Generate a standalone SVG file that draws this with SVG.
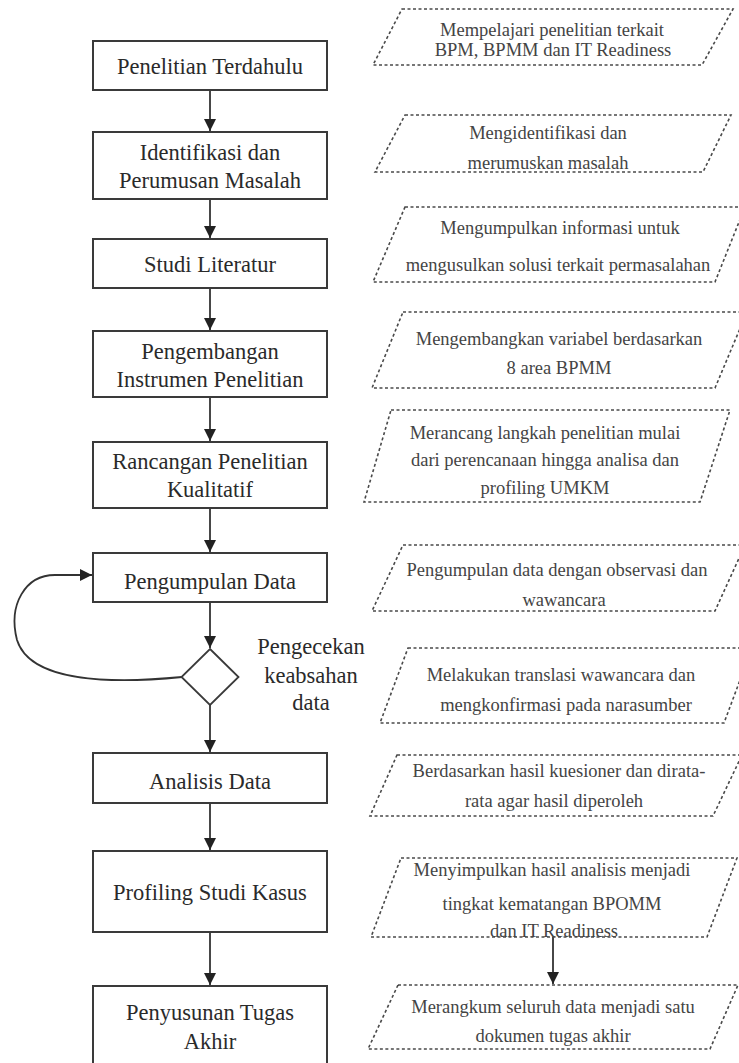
<svg xmlns="http://www.w3.org/2000/svg" width="739" height="1063" viewBox="0 0 739 1063">
  <style>
    .box { fill: #ffffff; stroke: #3a3a3a; stroke-width: 2; }
    .dia { fill: #ffffff; stroke: #3a3a3a; stroke-width: 1.8; }
    .note { fill: #ffffff; stroke: #4a4a4a; stroke-width: 1.6; stroke-dasharray: 3 2.5; }
    .edge { fill: none; stroke: #333333; stroke-width: 1.8; }
    .lbl { font-family: "Liberation Serif", "Times New Roman", serif; font-size: 22.5px; fill: #2a2a2a; text-anchor: middle; }
    .ntxt { font-family: "Liberation Serif", "Times New Roman", serif; font-size: 18.5px; fill: #444444; text-anchor: middle; }
  </style>
  <defs>
    <marker id="arrow" markerUnits="userSpaceOnUse" markerWidth="12" markerHeight="15" viewBox="0 0 12 15" refX="12" refY="7.5" orient="auto">
      <path d="M0,1.5 L12,7.5 L0,13.5 Z" fill="#222222"/>
    </marker>
  </defs>
  <rect width="739" height="1063" fill="#ffffff"/>

  <!-- connectors -->
  <g id="connectors">
    <line class="edge" x1="210" y1="90" x2="210" y2="131" marker-end="url(#arrow)"/>
    <line class="edge" x1="210" y1="199" x2="210" y2="238" marker-end="url(#arrow)"/>
    <line class="edge" x1="210" y1="288" x2="210" y2="330" marker-end="url(#arrow)"/>
    <line class="edge" x1="210" y1="397" x2="210" y2="441" marker-end="url(#arrow)"/>
    <line class="edge" x1="210" y1="508" x2="210" y2="552" marker-end="url(#arrow)"/>
    <line class="edge" x1="210" y1="602" x2="210" y2="648" marker-end="url(#arrow)"/>
    <line class="edge" x1="210" y1="705" x2="210" y2="752" marker-end="url(#arrow)"/>
    <line class="edge" x1="210" y1="803" x2="210" y2="850" marker-end="url(#arrow)"/>
    <line class="edge" x1="210" y1="932" x2="210" y2="985" marker-end="url(#arrow)"/>
    <path class="edge" d="M182,677 C110,684 30,682 17,640 C8,605 25,575 55,575 L92,575" marker-end="url(#arrow)"/>
    <line class="edge" x1="553" y1="937" x2="553" y2="984" marker-end="url(#arrow)"/>
  </g>

  <!-- process steps -->
  <g id="step-penelitian-terdahulu">
    <rect class="box" x="93" y="41" width="234" height="49"/>
    <text class="lbl" x="210" y="74">Penelitian Terdahulu</text>
  </g>
  <g id="step-identifikasi">
    <rect class="box" x="93" y="132" width="234" height="67"/>
    <text class="lbl" x="210" y="160">Identifikasi dan</text>
    <text class="lbl" x="210" y="188">Perumusan Masalah</text>
  </g>
  <g id="step-studi-literatur">
    <rect class="box" x="93" y="239" width="234" height="49"/>
    <text class="lbl" x="210" y="272">Studi Literatur</text>
  </g>
  <g id="step-pengembangan">
    <rect class="box" x="93" y="331" width="234" height="66"/>
    <text class="lbl" x="210" y="359">Pengembangan</text>
    <text class="lbl" x="210" y="387">Instrumen Penelitian</text>
  </g>
  <g id="step-rancangan">
    <rect class="box" x="93" y="442" width="234" height="66"/>
    <text class="lbl" x="210" y="469">Rancangan Penelitian</text>
    <text class="lbl" x="210" y="497">Kualitatif</text>
  </g>
  <g id="step-pengumpulan">
    <rect class="box" x="93" y="553" width="234" height="49"/>
    <text class="lbl" x="210" y="589">Pengumpulan Data</text>
  </g>
  <g id="step-pengecekan">
    <polygon class="dia" points="210,649 238.5,677 210,705 181.5,677"/>
    <text class="lbl" x="311" y="654">Pengecekan</text>
    <text class="lbl" x="311" y="683">keabsahan</text>
    <text class="lbl" x="311" y="710">data</text>
  </g>
  <g id="step-analisis">
    <rect class="box" x="93" y="753" width="234" height="50"/>
    <text class="lbl" x="210" y="789">Analisis Data</text>
  </g>
  <g id="step-profiling">
    <rect class="box" x="93" y="851" width="234" height="81"/>
    <text class="lbl" x="210" y="900">Profiling Studi Kasus</text>
  </g>
  <g id="step-penyusunan">
    <rect class="box" x="93" y="986" width="234" height="90"/>
    <text class="lbl" x="210" y="1020">Penyusunan Tugas</text>
    <text class="lbl" x="210" y="1049">Akhir</text>
  </g>

  <!-- side notes -->
  <g id="note-1">
    <polygon class="note" points="402,9 733,9 702,65 373,65"/>
    <text class="ntxt" x="552" y="36">Mempelajari penelitian terkait</text>
    <text class="ntxt" x="553" y="56">BPM, BPMM dan IT Readiness</text>
  </g>
  <g id="note-2">
    <polygon class="note" points="405,115 731,115 703,172 375,172"/>
    <text class="ntxt" x="548" y="139">Mengidentifikasi dan</text>
    <text class="ntxt" x="548" y="169">merumuskan masalah</text>
  </g>
  <g id="note-3">
    <polygon class="note" points="405,207 745,207 715,282 373,282"/>
    <text class="ntxt" x="560" y="234">Mengumpulkan informasi untuk</text>
    <text class="ntxt" x="558" y="271">mengusulkan solusi terkait permasalahan</text>
  </g>
  <g id="note-4">
    <polygon class="note" points="403,312 747,312 715,388 372,388"/>
    <text class="ntxt" x="559" y="345">Mengembangkan variabel berdasarkan</text>
    <text class="ntxt" x="559" y="374">8 area BPMM</text>
  </g>
  <g id="note-5">
    <polygon class="note" points="391,410 730,410 700,502 364,502"/>
    <text class="ntxt" x="545" y="439">Merancang langkah penelitian mulai</text>
    <text class="ntxt" x="545" y="466">dari perencanaan hingga analisa dan</text>
    <text class="ntxt" x="545" y="494">profiling UMKM</text>
  </g>
  <g id="note-6">
    <polygon class="note" points="403,545 745,545 715,611 372,611"/>
    <text class="ntxt" x="557" y="576">Pengumpulan data dengan observasi dan</text>
    <text class="ntxt" x="564" y="606">wawancara</text>
  </g>
  <g id="note-7">
    <polygon class="note" points="408,648 752,648 724,723 380,723"/>
    <text class="ntxt" x="561" y="681">Melakukan translasi wawancara dan</text>
    <text class="ntxt" x="566" y="711">mengkonfirmasi pada narasumber</text>
  </g>
  <g id="note-8">
    <polygon class="note" points="397,755 742,755 713,816 370,816"/>
    <text class="ntxt" x="559" y="777">Berdasarkan hasil kuesioner dan dirata-</text>
    <text class="ntxt" x="554" y="807">rata agar hasil diperoleh</text>
  </g>
  <g id="note-9">
    <polygon class="note" points="401,858 737,858 707,937 371,937"/>
    <text class="ntxt" x="552" y="876">Menyimpulkan hasil analisis menjadi</text>
    <text class="ntxt" x="552" y="910">tingkat kematangan BPOMM</text>
    <text class="ntxt" x="554" y="937">dan IT Readiness</text>
  </g>
  <g id="note-10">
    <polygon class="note" points="398,985 738,985 710,1049 368,1049"/>
    <text class="ntxt" x="553" y="1013">Merangkum seluruh data menjadi satu</text>
    <text class="ntxt" x="553" y="1042">dokumen tugas akhir</text>
  </g>
</svg>
